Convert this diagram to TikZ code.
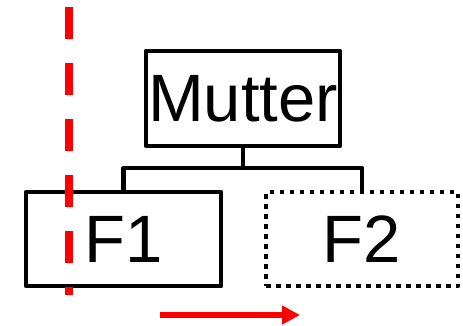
\documentclass[tikz,border=0pt]{standalone}
\usepackage{fontspec}
\setmainfont{Liberation Sans}
\usetikzlibrary{arrows.meta}
\begin{document}
\begin{tikzpicture}[x=1pt,y=-1pt,
  box/.style={draw=black, line width=4.5pt, line join=round, inner sep=0pt,
    minimum height=94pt, font=\fontsize{67}{67}\selectfont},
  ghostbox/.style={box, dash pattern=on 4.5pt off 5.5pt, line cap=butt},
  link/.style={draw=black, line width=4.5pt, line join=round},
  cutline/.style={draw=red, line width=8pt, dash pattern=on 32pt off 24pt},
  shiftarrow/.style={draw=red, line width=6pt, -{Triangle[length=18pt,width=18pt]}}]
\useasboundingbox (0,0) rectangle (463,325);
% boxes
\node[box, minimum width=194pt, minimum height=95pt] (M) at (243,98.5) {Mutter};
\node[box, minimum width=195pt] (F1) at (123.5,239) {F1};
\node[ghostbox, minimum width=192pt] (F2) at (362,239) {F2};
% tree connectors
\coordinate (bus) at (0,168);
\draw[link] (M.south) -- (M.south |- bus);
\draw[link] (F1.north) -- (F1.north |- bus) -| (F2.north);
% cut line and shift arrow
\coordinate (cutTop) at (69,7);
\coordinate (cutBot) at (69,295);
\draw[cutline] (cutTop) -- (cutBot);
\coordinate (arrStart) at (160,315);
\coordinate (arrEnd) at (300,315);
\draw[shiftarrow] (arrStart) -- (arrEnd);
\end{tikzpicture}
\end{document}
